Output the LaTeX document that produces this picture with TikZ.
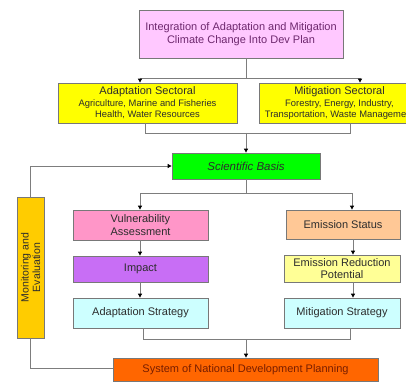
\documentclass[tikz,border=0pt]{standalone}
\usepackage{fontspec}
\setmainfont{Liberation Sans}
\usetikzlibrary{arrows.meta}
\definecolor{boxline}{RGB}{120,120,120}
\definecolor{wire}{RGB}{125,125,125}
\definecolor{ink}{RGB}{45,45,45}
\definecolor{cTop}{RGB}{255,200,255}
\definecolor{cTopText}{RGB}{110,40,110}
\definecolor{cYellow}{RGB}{255,255,0}
\definecolor{cGreen}{RGB}{0,255,0}
\definecolor{cVuln}{RGB}{255,150,200}
\definecolor{cPeach}{RGB}{255,200,150}
\definecolor{cPurple}{RGB}{200,110,245}
\definecolor{cLightYellow}{RGB}{255,255,150}
\definecolor{cCyan}{RGB}{205,255,255}
\definecolor{cOrange}{RGB}{255,102,0}
\definecolor{cOrangeText}{RGB}{120,30,0}
\definecolor{cGold}{RGB}{255,204,0}
\begin{document}
\begin{tikzpicture}[x=1pt,y={(0pt,-1pt)},
  box/.style={draw=boxline,line width=0.8pt,inner sep=1pt,align=center,
    text=ink,font=\fontsize{11}{12.5}\selectfont},
  wireline/.style={draw=wire,line width=0.9pt},
  arr/.style={wireline,-{Triangle[length=4pt,width=4pt,color=black]}}]
\useasboundingbox (0,0) rectangle (406,382);
\clip (0,0) rectangle (406,382);

% boxes
\node[box,fill=cTop,text=cTopText,minimum width=204pt,minimum height=48pt]
  (top) at (241,34) {Integration of Adaptation and Mitigation\\Climate Change Into Dev Plan};
\node[box,fill=cYellow,minimum width=179pt,minimum height=40pt]
  (adapt) at (147.5,103) {Adaptation Sectoral\\[-1pt]{\fontsize{9.4}{11}\selectfont Agriculture, Marine and Fisheries}\\[-1pt]{\fontsize{9.4}{11}\selectfont Health, Water Resources}};
\node[box,fill=cYellow,minimum width=161pt,minimum height=40pt]
  (mitig) at (339.5,103) {Mitigation Sectoral\\[-1pt]{\fontsize{9.4}{11}\selectfont Forestry, Energy, Industry,}\\[-1pt]{\fontsize{9.4}{11}\selectfont Transportation, Waste Management}};
\node[box,fill=cGreen,minimum width=148pt,minimum height=26pt,font=\fontsize{11.5}{13}\itshape]
  (sci) at (246,166) {Scientific Basis};
\node[box,fill=cGold,rotate=90,minimum width=141pt,minimum height=27pt,
  font=\fontsize{10.5}{11.5}\selectfont]
  (mon) at (30.5,267.5) {Monitoring and\\Evaluation};
\node[box,fill=cVuln,minimum width=135pt,minimum height=30pt]
  (vuln) at (140.5,225) {Vulnerability\\Assessment};
\node[box,fill=cPeach,minimum width=114pt,minimum height=29pt]
  (emis) at (343,224.5) {Emission Status};
\node[box,fill=cPurple,minimum width=135pt,minimum height=26pt]
  (impact) at (140.5,269) {Impact};
\node[box,fill=cLightYellow,minimum width=116pt,minimum height=27pt]
  (erp) at (342,268.5) {Emission Reduction\\Potential};
\node[box,fill=cCyan,minimum width=135pt,minimum height=30pt]
  (adstr) at (140.5,313) {Adaptation Strategy};
\node[box,fill=cCyan,minimum width=116pt,minimum height=30pt]
  (mistr) at (342,313) {Mitigation Strategy};
\node[box,fill=cOrange,text=cOrangeText,minimum width=265pt,minimum height=23pt]
  (sys) at (245.5,369.5) {System of National Development Planning};

% junction points of the connector trees
\coordinate (t0) at (246,78);
\coordinate (tL) at (140,78);
\coordinate (tR) at (360,78);
\coordinate (s0) at (246,133);
\coordinate (sL) at (145,133);
\coordinate (sR) at (350,133);
\coordinate (b0) at (246,193);
\coordinate (bL) at (140,193);
\coordinate (bR) at (352,193);
\coordinate (eX) at (353,0);
\coordinate (m0) at (246,339);
\coordinate (mL) at (143,339);
\coordinate (mR) at (350,339);
\coordinate (fbTop) at (30,166);
\coordinate (fbBot) at (30,368);

% top box to the two sectoral boxes
\draw[wireline] (top.south -| t0) -- (t0);
\draw[wireline] (tL) -- (tR);
\draw[arr] (tL) -- (tL |- adapt.north);
\draw[arr] (tR) -- (tR |- mitig.north);

% sectoral boxes to scientific basis
\draw[wireline] (sL |- adapt.south) -- (sL) -- (sR) -- (sR |- mitig.south);
\draw[arr] (s0) -- (s0 |- sci.north);

% scientific basis to the two branches
\draw[wireline] (sci.south -| b0) -- (b0);
\draw[wireline] (bL) -- (bR);
\draw[arr] (bL) -- (bL |- vuln.north);
\draw[arr] (bR) -- (bR |- emis.north);

% adaptation branch
\draw[arr] (vuln.south -| bL) -- (impact.north -| bL);
\draw[arr] (impact.south -| bL) -- (adstr.north -| bL);
% mitigation branch
\draw[arr] (emis.south -| eX) -- (erp.north -| eX);
\draw[arr] (erp.south -| eX) -- (mistr.north -| eX);

% strategies to national planning
\draw[wireline] (mL |- adstr.south) -- (mL) -- (mR) -- (mR |- mistr.south);
\draw[arr] (m0) -- (m0 |- sys.north);

% monitoring feedback loop
\draw[arr] (mon.east -| fbTop) -- (fbTop) -- (sci.west);
\draw[wireline] (mon.west -| fbBot) -- (fbBot) -- (fbBot -| sys.west);
\end{tikzpicture}
\end{document}
